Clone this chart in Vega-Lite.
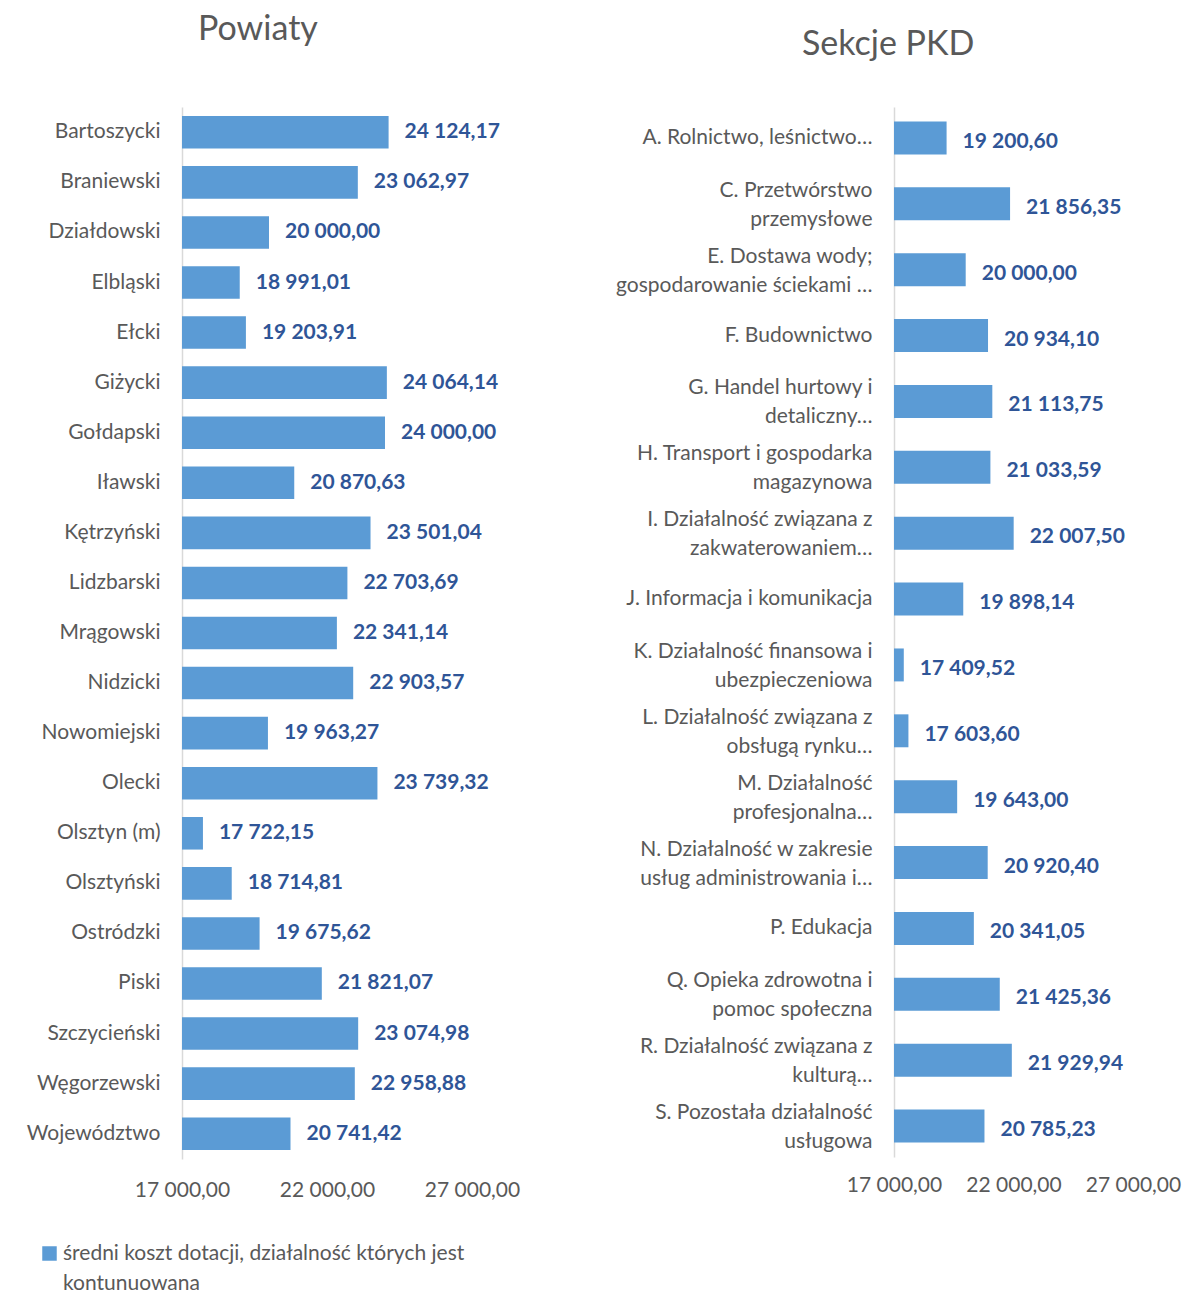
{
  "$schema": "https://vega.github.io/schema/vega-lite/v6.json",
  "padding": {"left": 26, "top": 13, "right": 2, "bottom": 2},
  "background": "white",
  "bounds": "flush",
  "spacing": 422,
  "config": {
    "locale": {"number": {"decimal": ",", "thousands": " ", "grouping": [3], "currency": ["", " zł"]}},
    "font": "Lato",
    "view": {"stroke": null},
    "style": {"guide-label": {"lineHeight": 30}},
    "title": {"font": "Lato", "fontSize": 34, "fontWeight": "normal", "color": "#595959", "anchor": "middle", "frame": "bounds"},
    "axis": {"labelFont": "Lato", "labelColor": "#595959", "labelFontSize": 21, "grid": false, "ticks": false, "title": null}
  },
  "datasets": {
    "powiaty": [
      {"name": "Bartoszycki", "value": 24124.17, "series": "średni koszt dotacji, działalność których jest kontunuowana"},
      {"name": "Braniewski", "value": 23062.97, "series": "średni koszt dotacji, działalność których jest kontunuowana"},
      {"name": "Działdowski", "value": 20000.00, "series": "średni koszt dotacji, działalność których jest kontunuowana"},
      {"name": "Elbląski", "value": 18991.01, "series": "średni koszt dotacji, działalność których jest kontunuowana"},
      {"name": "Ełcki", "value": 19203.91, "series": "średni koszt dotacji, działalność których jest kontunuowana"},
      {"name": "Giżycki", "value": 24064.14, "series": "średni koszt dotacji, działalność których jest kontunuowana"},
      {"name": "Gołdapski", "value": 24000.00, "series": "średni koszt dotacji, działalność których jest kontunuowana"},
      {"name": "Iławski", "value": 20870.63, "series": "średni koszt dotacji, działalność których jest kontunuowana"},
      {"name": "Kętrzyński", "value": 23501.04, "series": "średni koszt dotacji, działalność których jest kontunuowana"},
      {"name": "Lidzbarski", "value": 22703.69, "series": "średni koszt dotacji, działalność których jest kontunuowana"},
      {"name": "Mrągowski", "value": 22341.14, "series": "średni koszt dotacji, działalność których jest kontunuowana"},
      {"name": "Nidzicki", "value": 22903.57, "series": "średni koszt dotacji, działalność których jest kontunuowana"},
      {"name": "Nowomiejski", "value": 19963.27, "series": "średni koszt dotacji, działalność których jest kontunuowana"},
      {"name": "Olecki", "value": 23739.32, "series": "średni koszt dotacji, działalność których jest kontunuowana"},
      {"name": "Olsztyn (m)", "value": 17722.15, "series": "średni koszt dotacji, działalność których jest kontunuowana"},
      {"name": "Olsztyński", "value": 18714.81, "series": "średni koszt dotacji, działalność których jest kontunuowana"},
      {"name": "Ostródzki", "value": 19675.62, "series": "średni koszt dotacji, działalność których jest kontunuowana"},
      {"name": "Piski", "value": 21821.07, "series": "średni koszt dotacji, działalność których jest kontunuowana"},
      {"name": "Szczycieński", "value": 23074.98, "series": "średni koszt dotacji, działalność których jest kontunuowana"},
      {"name": "Węgorzewski", "value": 22958.88, "series": "średni koszt dotacji, działalność których jest kontunuowana"},
      {"name": "Województwo", "value": 20741.42, "series": "średni koszt dotacji, działalność których jest kontunuowana"}
    ],
    "pkd": [
      {"name": "A. Rolnictwo, leśnictwo…", "value": 19200.60},
      {"name": "C. Przetwórstwo|przemysłowe", "value": 21856.35},
      {"name": "E. Dostawa wody;|gospodarowanie ściekami …", "value": 20000.00},
      {"name": "F. Budownictwo", "value": 20934.10},
      {"name": "G. Handel hurtowy i|detaliczny…", "value": 21113.75},
      {"name": "H. Transport i gospodarka|magazynowa", "value": 21033.59},
      {"name": "I. Działalność związana z|zakwaterowaniem…", "value": 22007.50},
      {"name": "J. Informacja i komunikacja", "value": 19898.14},
      {"name": "K. Działalność finansowa i|ubezpieczeniowa", "value": 17409.52},
      {"name": "L. Działalność związana z|obsługą rynku…", "value": 17603.60},
      {"name": "M. Działalność|profesjonalna…", "value": 19643.00},
      {"name": "N. Działalność w zakresie|usług administrowania i…", "value": 20920.40},
      {"name": "P. Edukacja", "value": 20341.05},
      {"name": "Q. Opieka zdrowotna i|pomoc społeczna", "value": 21425.36},
      {"name": "R. Działalność związana z|kulturą…", "value": 21929.94},
      {"name": "S. Pozostała działalność|usługowa", "value": 20785.23}
    ]
  },
  "hconcat": [
    {
      "title": {"text": "Powiaty", "offset": 60, "dx": -15},
      "width": 290,
      "height": 1052,
      "data": {"name": "powiaty"},
      "encoding": {
        "y": {"field": "name", "type": "nominal", "sort": null,
              "scale": {"paddingInner": 0.35, "paddingOuter": 0.18},
              "axis": {"domainColor": "#D9D9D9", "domainWidth": 1.5, "labelPadding": 22, "labelLimit": 300}},
        "x": {"field": "value", "type": "quantitative",
              "scale": {"domain": [17000, 27000], "nice": false, "zero": false},
              "axis": {"values": [17000, 22000, 27000], "format": ",.2f", "domain": false, "labelPadding": 20,
                       "labelFlush": false, "labelOverlap": false}}
      },
      "layer": [
        {"mark": {"type": "bar", "color": "#5B9BD5"},
         "encoding": {"x2": {"datum": 17000},
                      "color": {"field": "series", "type": "nominal",
                                "scale": {"range": ["#5B9BD5"]},
                                "legend": {"orient": "none", "legendX": -143, "legendY": 1136, "title": null,
                                           "symbolType": "square", "symbolSize": 210, "symbolStrokeWidth": 0,
                                           "labelFont": "Lato", "labelFontSize": 21, "labelColor": "#595959",
                                           "labelLimit": 600, "labelOffset": 3,
                                           "labelExpr": "['średni koszt dotacji, działalność których jest', 'kontunuowana']"}}}},
        {"mark": {"type": "text", "align": "left", "dx": 16, "font": "Lato", "fontSize": 21, "fontWeight": "bold", "color": "#2F5597"},
         "encoding": {"text": {"field": "value", "type": "quantitative", "format": ",.2f"}}}
      ]
    },
    {
      "title": {"text": "Sekcje PKD", "offset": 45, "dx": -10},
      "width": 239,
      "height": 1050,
      "data": {"name": "pkd"},
      "encoding": {
        "y": {"field": "name", "type": "nominal", "sort": null,
              "scale": {"paddingInner": 0.5, "paddingOuter": 0.22},
              "axis": {"domainColor": "#D9D9D9", "domainWidth": 1.5, "labelPadding": 22, "labelLimit": 400,
                       "labelLineHeight": 29, "labelExpr": "split(datum.value, '|')",
                       "labelOffset": {"condition": {"test": "indexof(datum.value, '|') >= 0", "value": -13}, "value": 0}}},
        "x": {"field": "value", "type": "quantitative",
              "scale": {"domain": [17000, 27000], "nice": false, "zero": false},
              "axis": {"values": [17000, 22000, 27000], "format": ",.2f", "domain": false, "labelPadding": 17,
                       "labelFlush": false, "labelOverlap": false}}
      },
      "layer": [
        {"mark": {"type": "bar", "color": "#5B9BD5"},
         "encoding": {"x2": {"datum": 17000}}},
        {"mark": {"type": "text", "align": "left", "dx": 16, "dy": 4, "font": "Lato", "fontSize": 21, "fontWeight": "bold", "color": "#2F5597"},
         "encoding": {"text": {"field": "value", "type": "quantitative", "format": ",.2f"}}}
      ]
    }
  ]
}
